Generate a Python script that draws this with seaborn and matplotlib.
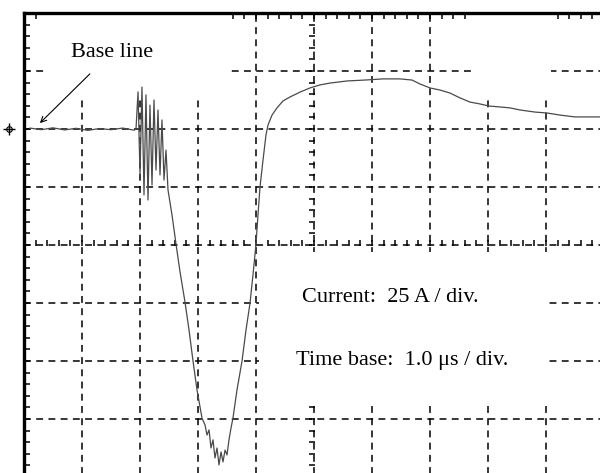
import numpy as np
import matplotlib
matplotlib.use("Agg")
import matplotlib.pyplot as plt
from matplotlib.patches import Rectangle
import seaborn as sns

# Oscilloscope trace: time in microseconds, current in amperes (relative to base line)
time_us = [
    0.10, 0.30, 0.50, 0.70, 0.90, 1.10, 1.30, 1.50, 1.70, 1.90,
    1.931, 1.966, 2.000, 2.034, 2.069, 2.103, 2.138, 2.172, 2.207, 2.241,
    2.276, 2.310, 2.345, 2.379, 2.414, 2.448, 2.483, 2.552, 2.621, 2.690,
    2.776, 2.845, 2.914, 2.983, 3.069, 3.121, 3.155, 3.190, 3.224, 3.259,
    3.293, 3.328, 3.362, 3.397, 3.431, 3.466, 3.500, 3.534, 3.569, 3.603,
    3.672, 3.759, 3.828, 3.897, 3.948, 4.000, 4.034, 4.069, 4.121, 4.172,
    4.207, 4.276, 4.362, 4.466, 4.586, 4.759, 4.931, 5.103, 5.276, 5.569,
    5.879, 6.190, 6.483, 6.690, 6.828, 7.000, 7.172, 7.345, 7.517, 7.690,
    7.862, 8.017, 8.207, 8.379, 8.552, 8.810, 9.017, 9.241, 9.500, 9.931,
]
current_a = [
    0.4, -0.3, 0.5, -0.4, 0.3, -0.6, 0.2, -0.3, 0.4, -0.5,
    0.0, 16.0, -19.8, 18.1, -28.4, 14.7, -30.6, 10.3, -24.1, 12.5,
    -17.7, 8.2, -19.8, 3.9, -22.0, -9.1, -26.3, -37.1, -49.6, -61.6,
    -74.6, -86.6, -100.0, -112.5, -124.6, -127.6, -131.9, -129.7, -137.5, -134.0,
    -141.8, -137.5, -144.8, -139.2, -143.5, -138.4, -140.5, -134.0, -128.9, -124.6,
    -112.5, -100.0, -86.6, -75.0, -62.9, -49.6, -37.1, -25.0, -13.4, -2.6,
    1.7, 6.0, 9.1, 12.1, 13.8, 15.9, 17.7, 19.0, 19.8, 20.7,
    21.1, 21.6, 21.6, 21.1, 19.4, 17.7, 16.8, 15.5, 13.4, 11.6,
    10.8, 9.9, 9.5, 9.1, 8.2, 7.3, 6.9, 6.0, 5.2, 5.2,
]

# Screen settings: 1.0 us/div horizontally, 25 A/div vertically
time_div = 1.0
amp_div = 25.0
n_xdiv = 10
n_ydiv = 8
y_top = 50.0
y_bottom = y_top - n_ydiv * amp_div
y_center = (y_top + y_bottom) / 2
x_center = n_xdiv * time_div / 2

label_base = "Base line"
label_current = "Current:  25 A / div."
label_time = "Time base:  1.0 \u03bcs / div."

sns.set_style("white")
plt.rcParams["font.family"] = ["Liberation Serif", "DejaVu Serif"]

fig = plt.figure(figsize=(6.0, 4.73), dpi=100)
ax = fig.add_axes([24 / 600, -4 / 473, 580 / 600, 464 / 473])
ax.set_xlim(0, n_xdiv * time_div)
ax.set_ylim(y_bottom, y_top)

dash = (0, (4.5, 3.5))
# graticule
for k in range(1, n_xdiv):
    ax.axvline(k * time_div, color="black", lw=1.1, ls=dash, zorder=1)
for k in range(1, n_ydiv):
    ax.axhline(y_bottom + k * amp_div, color="black", lw=1.1, ls=dash, zorder=1)

# small division marks on the centre lines
sub_x = np.arange(0, n_xdiv * time_div + 1e-9, time_div / 5)
sub_y = np.arange(y_bottom, y_top + 1e-9, amp_div / 5)
ax.plot(sub_x, np.full_like(sub_x, y_center) + 1.0, ls="none", marker="|",
        ms=4.5, mew=1.1, color="black", zorder=1)
ax.plot(np.full_like(sub_y, x_center) - 0.03, sub_y, ls="none", marker="_",
        ms=4.5, mew=1.1, color="black", zorder=1)

# white label areas
ax.add_patch(Rectangle((0.36, 12.5), 3.19, 40, facecolor="white", edgecolor="none", zorder=2))
ax.add_patch(Rectangle((7.78, 12.5), 1.30, 40, facecolor="white", edgecolor="none", zorder=2))
ax.add_patch(Rectangle((4.05, -118.0), 5.00, 65.0, facecolor="white", edgecolor="none", zorder=2))

# trace
sns.lineplot(x=time_us, y=current_a, sort=False, estimator=None, ax=ax,
             color="#4a4a4a", lw=0.9, zorder=4)

# base line marker at the screen edge
ax.plot([-0.26], [0], marker="+", ms=9, mew=1.0, color="black", clip_on=False, zorder=5)
ax.plot([-0.26], [0], marker="o", ms=4, mew=0.8, mfc="none", color="black", clip_on=False, zorder=5)

# frame with inward ticks on top and left
ax.set_xticks(sub_x)
ax.set_yticks(sub_y)
ax.xaxis.set_ticks_position("top")
ax.yaxis.set_ticks_position("left")
ax.tick_params(direction="in", length=4, width=1.1, color="black",
               labeltop=False, labelbottom=False, labelleft=False, labelright=False)
for side in ("top", "left"):
    ax.spines[side].set_linewidth(2.4)
    ax.spines[side].set_color("black")
    ax.spines[side].set_zorder(6)
for side in ("right", "bottom"):
    ax.spines[side].set_visible(False)
ax.set_xlabel("")
ax.set_ylabel("")

ax.text(1.52, 32.8, label_base, fontsize=16, color="black", ha="center", va="center", zorder=5)
ax.annotate("", xy=(0.24, 1.7), xytext=(1.17, 24.6),
            arrowprops=dict(arrowstyle="->", lw=0.8, color="black"), zorder=5)
ax.text(6.31, -72.8, label_current, fontsize=16, color="black", ha="center", va="center", zorder=5)
ax.text(6.52, -99.6, label_time, fontsize=16, color="black", ha="center", va="center", zorder=5)

fig.savefig("out.png", dpi=100)
